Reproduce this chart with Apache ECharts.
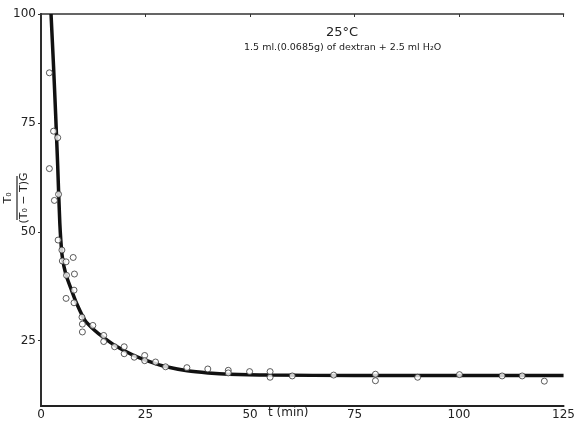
<!DOCTYPE html>
<html>
<head>
<meta charset="utf-8">
<script src="https://cdn.jsdelivr.net/npm/echarts@6/dist/echarts.min.js"></script>
<style>html,body{margin:0;padding:0;background:#fff;}#c{width:578px;height:423px;}</style>
</head>
<body>
<div id="c"></div>
<script>
// Fitted curve: [t (min), T0/((T0-T)G)]
const curveT = [2.4, 3.0, 3.5, 4.0, 4.5, 5.0, 5.5, 6.2, 7.3, 8.5, 10.5, 12.8, 15.0, 18.0, 22.0, 26.0, 30.0, 35.0, 40.0, 45.0, 55.0, 75.0, 100.0, 125.0];
const curveV = [100, 88, 77, 65, 52, 45, 42, 39.5, 36.6, 33.6, 29.7, 27.4, 25.7, 23.7, 21.7, 20.2, 19.0, 18.1, 17.6, 17.3, 17.1, 17.0, 17.0, 17.0];
// Measured points
const pointT = [2.0, 3.0, 4.0, 2.0, 3.2, 4.2, 4.1, 5.0, 5.1, 6.0, 7.7, 6.1, 8.0, 6.0, 7.9, 7.9, 9.8, 9.9, 9.9, 12.4, 15.0, 15.0, 17.6, 19.9, 19.9, 22.3, 24.8, 24.8, 27.4, 29.8, 34.9, 39.9, 44.8, 44.8, 49.9, 54.8, 54.8, 60.1, 70.0, 80.0, 80.0, 90.1, 100.1, 110.3, 115.1, 120.4];
const pointV = [86.5, 73.1, 71.6, 64.5, 57.2, 58.6, 48.1, 45.8, 43.3, 43.1, 44.1, 40.0, 40.3, 34.7, 36.6, 33.7, 30.4, 28.8, 27.0, 28.5, 26.2, 24.8, 23.6, 23.6, 22.0, 21.2, 21.6, 20.4, 20.1, 19.0, 18.8, 18.5, 18.2, 17.6, 17.9, 17.9, 16.6, 16.9, 17.1, 17.3, 15.8, 16.6, 17.2, 16.9, 16.9, 15.7];
const xTicks = [0, 25, 50, 75, 100, 125];
const yTicks = [25, 50, 75, 100];
const titleText = '25°C';
const subText = '1.5 ml.(0.0685g) of dextran + 2.5 ml H₂O';
const yNum = 'T₀';
const yDen = '(T₀ − T)G';
const xName = 't (min)';

const chart = echarts.init(document.getElementById('c'), null, {renderer: 'canvas'});
const ink = '#222';
const font = 'DejaVu Sans';
const curve = curveT.map((t, i) => [t, curveV[i]]);
const pts = pointT.map((t, i) => [t, pointV[i]]);

chart.setOption({
  backgroundColor: '#fff',
  animation: false,
  grid: {left: 41, right: 8, top: 14, bottom: 17, containLabel: false},
  xAxis: [{
    type: 'value', min: 0, max: 125, interval: 25,
    axisLine: {show: true, onZero: false, lineStyle: {color: ink, width: 2}},
    axisTick: {show: false},
    axisLabel: {color: ink, fontFamily: font, fontSize: 12, margin: 3, customValues: xTicks},
    splitLine: {show: false}
  }, {
    type: 'value', position: 'top', min: 0, max: 125, interval: 25,
    axisLine: {show: true, lineStyle: {color: '#333', width: 1.5}},
    axisTick: {show: true, inside: true, length: 3, lineStyle: {color: '#333'}},
    axisLabel: {show: false},
    splitLine: {show: false}
  }],
  yAxis: [{
    type: 'value', min: 10, max: 100,
    axisLine: {show: true, onZero: false, lineStyle: {color: ink, width: 2}},
    axisTick: {show: true, length: 3, customValues: yTicks, lineStyle: {color: ink}},
    axisLabel: {color: ink, fontFamily: font, fontSize: 12, margin: 5, customValues: yTicks},
    splitLine: {show: false}
  }, {
    type: 'value', position: 'right', min: 10, max: 100,
    axisLine: {show: true, lineStyle: {color: '#333', width: 1.5}},
    axisTick: {show: true, inside: true, length: 3, customValues: yTicks, lineStyle: {color: '#333'}},
    axisLabel: {show: false},
    splitLine: {show: false}
  }],
  series: [{
    type: 'line', data: curve, showSymbol: false, symbol: 'none', smooth: 0.25,
    lineStyle: {color: '#111', width: 3.5}, z: 2, clip: true
  }, {
    type: 'scatter', data: pts, symbol: 'circle', symbolSize: 6,
    itemStyle: {color: '#fff', borderColor: '#333', borderWidth: 1}, z: 3
  }],
  graphic: [
    {type: 'text', left: 326, top: 26, style: {text: titleText, font: '13px "DejaVu Sans"', fill: ink}},
    {type: 'text', left: 244, top: 43, style: {text: subText, font: '9.5px "DejaVu Sans"', fill: ink}},
    {type: 'text', left: 268, top: 407, style: {text: xName, font: '12px "DejaVu Sans"', fill: ink}},
    {type: 'group', x: 17, y: 198, rotation: Math.PI / 2, children: [
      {type: 'text', x: 0, y: -3, style: {text: yNum, font: '11px "DejaVu Sans"', fill: ink, align: 'center', verticalAlign: 'bottom'}},
      {type: 'line', shape: {x1: -22, y1: 0, x2: 22, y2: 0}, style: {stroke: ink, lineWidth: 1.2}},
      {type: 'text', x: 0, y: 2, style: {text: yDen, font: '11px "DejaVu Sans"', fill: ink, align: 'center', verticalAlign: 'top'}}
    ]}
  ]
});
</script>
</body>
</html>
